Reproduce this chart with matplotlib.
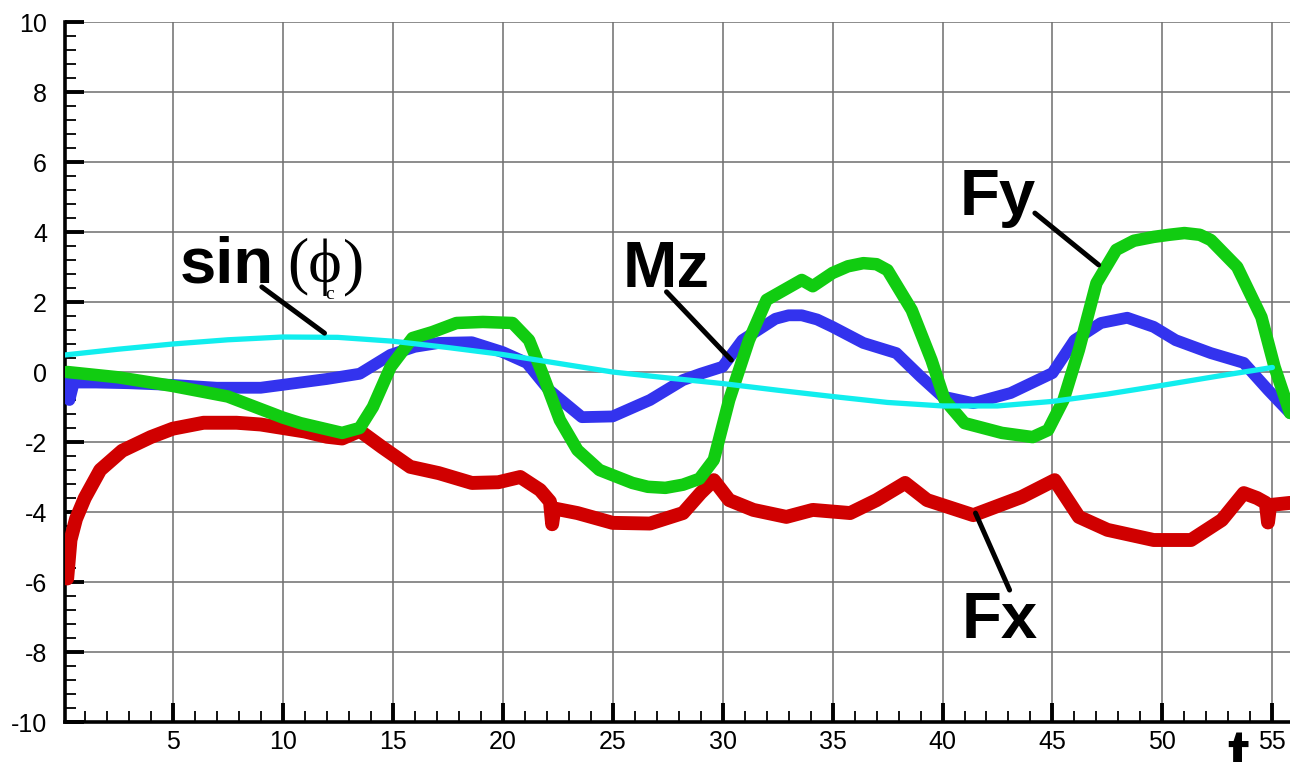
import numpy as np
import matplotlib.pyplot as plt
from matplotlib.ticker import MultipleLocator

plt.rcParams['font.family'] = ['Liberation Sans', 'DejaVu Sans']
plt.rcParams['axes.unicode_minus'] = False

# values
t_fx = [0.2, 0.35, 0.6, 1.0, 1.7, 2.7, 4.0, 5.0, 6.4, 7.9, 9.0, 10.0, 11.0, 12.0, 12.7,
        13.5, 14.5, 15.8, 17.1, 18.6, 19.8, 20.8, 21.7, 22.15, 22.25, 22.35, 23.4, 25.0,
        26.7, 28.2, 29.0, 29.6, 30.3, 31.4, 32.9, 34.1, 35.8, 37.0, 38.3, 39.3, 41.4,
        43.6, 45.1, 46.2, 47.5, 49.6, 51.3, 52.7, 53.7, 54.3, 54.7, 54.8, 54.9, 55.8]
fx = [-5.9, -4.8, -4.2, -3.6, -2.8, -2.25, -1.86, -1.62, -1.45, -1.45, -1.5, -1.6, -1.7,
      -1.85, -1.9, -1.68, -2.14, -2.71, -2.89, -3.17, -3.15, -3.0, -3.37, -3.7, -4.35,
      -3.9, -4.03, -4.31, -4.33, -4.03, -3.46, -3.09, -3.66, -3.94, -4.14, -3.94, -4.03,
      -3.66, -3.17, -3.66, -4.09, -3.57, -3.09, -4.14, -4.51, -4.8, -4.8, -4.23, -3.46,
      -3.6, -3.74, -4.3, -3.8, -3.74]

t_mz = [0.15, 0.3, 0.5, 1.5, 3.0, 5.0, 7.0, 9.0, 10.8, 12.0, 13.5, 14.9, 16.0, 17.1, 18.6,
        20.0, 21.1, 22.1, 23.6, 25.0, 26.7, 28.2, 29.0, 30.0, 30.9, 32.4, 33.0, 33.6,
        34.3, 35.0, 36.4, 37.9, 39.0, 40.0, 41.4, 43.1, 45.0, 46.0, 47.2, 48.4, 49.6,
        50.6, 52.2, 53.7, 54.8, 55.8]
mz = [-0.1, -0.8, -0.3, -0.3, -0.32, -0.37, -0.45, -0.45, -0.3, -0.2, -0.05, 0.49, 0.72,
      0.83, 0.85, 0.57, 0.26, -0.51, -1.29, -1.27, -0.8, -0.23, -0.05, 0.15, 0.91, 1.52,
      1.62, 1.62, 1.5, 1.29, 0.83, 0.54, -0.13, -0.7, -0.89, -0.6, -0.03, 0.91, 1.4,
      1.55, 1.29, 0.91, 0.54, 0.26, -0.51, -1.17]

t_fy = [0.2, 2.5, 5.0, 7.5, 10.0, 10.8, 12.7, 13.5, 14.1, 14.9, 15.9, 16.8, 17.9, 19.1,
        20.45, 21.2, 21.8, 22.6, 23.4, 24.4, 25.9, 26.6, 27.4, 28.2, 28.95, 29.6, 30.3,
        31.2, 32.0, 33.6, 34.1, 35.0, 35.7, 36.4, 37.0, 37.5, 38.6, 39.5, 40.1, 41.0,
        42.7, 44.1, 44.8, 45.5, 46.2, 47.0, 47.9, 48.7, 49.6, 50.3, 51.0, 51.7, 52.2,
        53.4, 54.5, 55.1, 55.8]
fy = [0.0, -0.15, -0.4, -0.7, -1.3, -1.46, -1.74, -1.6, -1.0, 0.14, 0.97, 1.14, 1.4, 1.43,
      1.4, 0.91, -0.03, -1.37, -2.23, -2.8, -3.17, -3.28, -3.31, -3.22, -3.05, -2.51,
      -0.8, 0.91, 2.06, 2.63, 2.45, 2.83, 3.02, 3.11, 3.08, 2.91, 1.77, 0.34, -0.8, -1.46,
      -1.74, -1.86, -1.66, -0.8, 0.63, 2.54, 3.49, 3.75, 3.86, 3.92, 3.97, 3.92, 3.77,
      3.0, 1.57, 0.14, -1.17]

t_sin = [0.0, 2.5, 5.0, 7.5, 10.0, 12.5, 15.0, 17.5, 20.0, 22.5, 25.0, 27.5, 30.0, 32.5,
         35.0, 37.5, 40.0, 42.5, 45.0, 47.5, 50.0, 52.5, 55.0]
sin_phi = [0.48, 0.65, 0.8, 0.92, 1.0, 0.99, 0.88, 0.7, 0.5, 0.25, 0.0, -0.17, -0.33,
           -0.52, -0.7, -0.87, -0.97, -0.97, -0.84, -0.63, -0.38, -0.12, 0.13]

fig = plt.figure(figsize=(12.9, 7.62), dpi=100)
ax = fig.add_axes([65 / 1290, 40 / 762, 1225 / 1290, 700 / 762])

ax.plot(t_fx, fx, color='#d00000', lw=10, solid_joinstyle='round', solid_capstyle='round', zorder=3)
ax.plot(t_mz, mz, color='#3333ee', lw=8.5, solid_joinstyle='round', solid_capstyle='round', zorder=4)
ax.plot(t_fy, fy, color='#11cc11', lw=9, solid_joinstyle='round', solid_capstyle='round', zorder=5)
ax.plot(t_sin, sin_phi, color='#11eeee', lw=3.8, solid_capstyle='round', zorder=6)

ax.set_xlim(0.1, 55.8)
ax.set_ylim(-10, 10)
ax.set_xticks([5, 10, 15, 20, 25, 30, 35, 40, 45, 50, 55])
ax.set_yticks(np.arange(-10, 11, 2))
ax.xaxis.set_minor_locator(MultipleLocator(1))
ax.yaxis.set_minor_locator(MultipleLocator(0.4))
ax.grid(True, which='major', color='#6e6e6e', lw=1.1, zorder=1)
ax.set_axisbelow(True)

ax.spines['top'].set_visible(False)
ax.spines['right'].set_visible(False)
ax.spines['left'].set_linewidth(2.6)
ax.spines['bottom'].set_linewidth(2.6)
ax.tick_params(which='major', direction='in', length=14, width=2.8, labelsize=18)
ax.tick_params(which='minor', direction='in', length=8, width=1.3)
ax.tick_params(axis='y', which='major', pad=13)
ax.tick_params(axis='x', which='major', pad=6)

# labels and leader lines
lbl = dict(fontsize=47, fontweight='bold', ha='left', va='baseline', zorder=8)
serif = ['Liberation Serif', 'DejaVu Serif']
ax.text(5.32, 2.57, 'sin', **lbl)
ax.text(10.2, 2.57, '(\u03d5', fontsize=46, ha='left', va='baseline', family=serif, zorder=8)
ax.text(11.95, 2.08, 'c', fontsize=14, ha='left', va='baseline', family=serif, zorder=8)
ax.text(12.75, 2.57, ')', fontsize=46, ha='left', va='baseline', family=serif, zorder=8)
ax.text(25.45, 2.43, 'Mz', **lbl)
ax.text(40.8, 4.49, 'Fy', **lbl)
ax.text(40.86, -7.6, 'Fx', **lbl)

leaders = [((9.05, 2.43), (11.9, 1.11)),
           ((27.45, 2.29), (30.4, 0.34)),
           ((44.2, 4.54), (47.1, 3.06)),
           ((41.5, -4.03), (43.05, -6.23))]
for (x0, y0), (x1, y1) in leaders:
    ax.plot([x0, x1], [y0, y1], color='black', lw=3.6, solid_capstyle='round', zorder=7)

ax.text(52.95, -11.54, 't', fontsize=47, fontweight='bold', ha='left', va='baseline',
        clip_on=False)

fig.savefig('out.png', dpi=100, facecolor='white')
